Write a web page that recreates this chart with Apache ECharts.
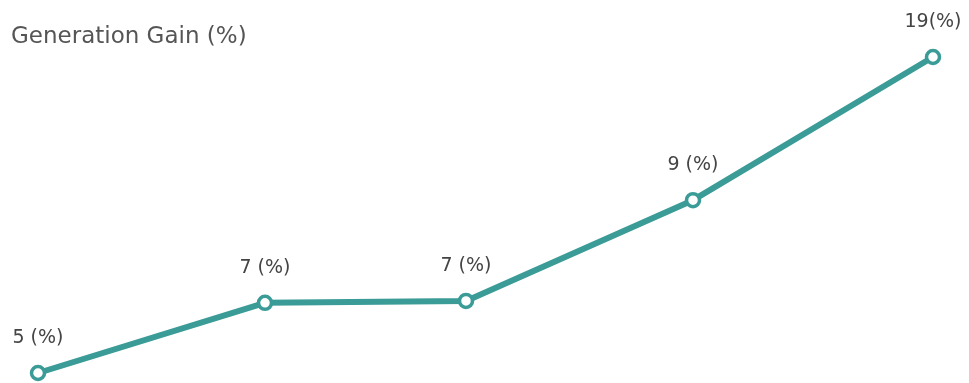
<!DOCTYPE html>
<html>
<head>
<meta charset="utf-8">
<script src="https://cdn.jsdelivr.net/npm/echarts@6/dist/echarts.min.js"></script>
<style>
  html, body { margin: 0; padding: 0; background: #fff; }
  #chart { width: 969px; height: 383px; }
</style>
</head>
<body>
<div id="chart"></div>
<script>
// generation positions along the x axis, as spaced in the picture
const drawnPositions = [0, 227, 428, 655, 895];
// gain shown in each point label
const gains = [5, 7, 7, 9, 19];
// line height as drawn in the picture (not proportional to the labels)
const drawnLevels = [0, 22.2, 22.8, 54.7, 100];

const chart = echarts.init(document.getElementById("chart"));

const option = {
  animation: false,
  title: {
    text: "Generation Gain (%)",
    left: 6,
    top: 21,
    textStyle: {
      fontFamily: "DejaVu Sans",
      fontWeight: "normal",
      fontSize: 23,
      color: "#555",
    },
  },
  grid: { left: 38, right: 36, top: 57, bottom: 10 },
  xAxis: {
    type: "value",
    min: 0,
    max: 895,
    show: false,
  },
  yAxis: {
    type: "value",
    min: 0,
    max: 100,
    show: false,
  },
  series: [
    {
      type: "line",
      data: drawnPositions.map((x, i) => [x, drawnLevels[i]]),
      symbol: "circle",
      symbolSize: 13,
      lineStyle: { color: "#3a9b97", width: 6 },
      itemStyle: { color: "#fff", borderColor: "#3a9b97", borderWidth: 3.5 },
      label: {
        show: true,
        position: "top",
        distance: 17,
        fontFamily: "DejaVu Sans",
        fontSize: 19,
        color: "#444",
        formatter: (p) => (gains[p.dataIndex] >= 10 ? gains[p.dataIndex] + "(%)" : gains[p.dataIndex] + " (%)"),
      },
      z: 10,
    },
  ],
};

chart.setOption(option);
</script>
</body>
</html>
